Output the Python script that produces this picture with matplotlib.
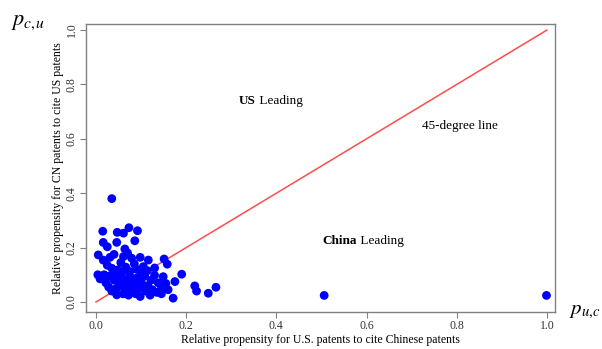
import matplotlib
matplotlib.use("Agg")
import matplotlib.pyplot as plt

# Relative citation propensities: x = U.S. patents citing Chinese patents,
# y = Chinese patents citing U.S. patents
p_uc = [0.035, 0.015, 0.047, 0.061, 0.073, 0.092, 0.016, 0.025, 0.046, 0.086, 0.064,
        0.005, 0.016, 0.031, 0.061, 0.079, 0.098, 0.116, 0.151, 0.158, 0.040, 0.070,
        0.055, 0.085, 0.105, 0.130, 0.035, 0.048, 0.066, 0.114, 0.025, 0.090, 0.075,
        0.009, 0.022, 0.149, 0.190, 0.175, 0.219, 0.223, 0.249, 0.266, 0.171, 0.098,
        0.046, 0.030, 0.040, 0.052, 0.060, 0.068, 0.075, 0.082, 0.090, 0.100, 0.108,
        0.115, 0.122, 0.130, 0.138, 0.145, 0.155, 0.160, 0.125, 0.110, 0.095, 0.080,
        0.065, 0.055, 0.045, 0.035, 0.028, 0.060, 0.072, 0.088, 0.135, 0.145, 0.120,
        0.018, 0.040, 0.058, 0.100, 0.070, 0.085, 0.050, 0.105, 0.004,
        0.506, 0.999]
p_cu = [0.380, 0.260, 0.256, 0.253, 0.273, 0.262, 0.219, 0.203, 0.219, 0.225, 0.195,
        0.173, 0.154, 0.164, 0.167, 0.161, 0.164, 0.154, 0.158, 0.139, 0.175, 0.180,
        0.145, 0.140, 0.130, 0.125, 0.124, 0.118, 0.128, 0.115, 0.135, 0.120, 0.112,
        0.085, 0.070, 0.093, 0.102, 0.075, 0.059, 0.040, 0.032, 0.054, 0.014, 0.020,
        0.026, 0.095, 0.080, 0.100, 0.085, 0.070, 0.095, 0.060, 0.088, 0.075, 0.095,
        0.060, 0.080, 0.098, 0.070, 0.055, 0.068, 0.045, 0.045, 0.040, 0.050, 0.035,
        0.045, 0.060, 0.050, 0.040, 0.055, 0.030, 0.025, 0.030, 0.035, 0.030, 0.025,
        0.100, 0.105, 0.110, 0.105, 0.055, 0.075, 0.075, 0.060, 0.100,
        0.024, 0.024]

diag = [0.0, 1.0]
ticks = [0.0, 0.2, 0.4, 0.6, 0.8, 1.0]
tick_labels = ["0.0", "0.2", "0.4", "0.6", "0.8", "1.0"]

plt.rcParams["font.family"] = ["Liberation Serif", "DejaVu Serif"]
plt.rcParams["mathtext.fontset"] = "stix"

fig = plt.figure(figsize=(6.02, 3.49), dpi=100)
ax = fig.add_axes([0.143, 0.106, 0.779, 0.825])

ax.scatter(p_uc, p_cu, s=40, color="#0000ff", edgecolors="none", zorder=3)
ax.plot(diag, diag, color="#ff4d4d", lw=1.1, zorder=2)

ax.set_xlim(-0.022, 1.018)
ax.set_ylim(-0.037, 1.022)
ax.set_xticks(ticks)
ax.set_xticklabels(tick_labels)
ax.set_yticks(ticks)
ax.set_yticklabels(tick_labels, rotation=90, va="center")

gray = "#808080"
for s in ax.spines.values():
    s.set_color(gray)
    s.set_linewidth(1.0)
ax.tick_params(colors="#333333", length=4, width=0.8, labelsize=8.5, pad=2)
ax.tick_params(axis="both", color=gray)

ax.set_xlabel("Relative propensity for U.S. patents to cite Chinese patents",
              fontsize=8.5, labelpad=1)
ax.set_ylabel("Relative propensity for CN patents to cite US patents",
              fontsize=8.5, labelpad=1)

# Region annotations
ax.text(0.355, 0.74, "US", fontweight="bold", fontsize=9.5, ha="right", va="center")
ax.text(0.355, 0.74, " Leading", fontsize=9.5, ha="left", va="center")
ax.text(0.579, 0.224, "China", fontweight="bold", fontsize=9.5, ha="right", va="center")
ax.text(0.579, 0.224, " Leading", fontsize=9.5, ha="left", va="center")
ax.text(0.807, 0.647, "45-degree line", fontsize=9.5, ha="center", va="center")

# Axis symbols
fig.text(0.018, 0.935, r"$p_{c,\!u}$", fontsize=16, ha="left", va="center")
fig.text(0.946, 0.108, r"$p_{u,\!c}$", fontsize=15, ha="left", va="center")

fig.savefig("out.png", dpi=100)
